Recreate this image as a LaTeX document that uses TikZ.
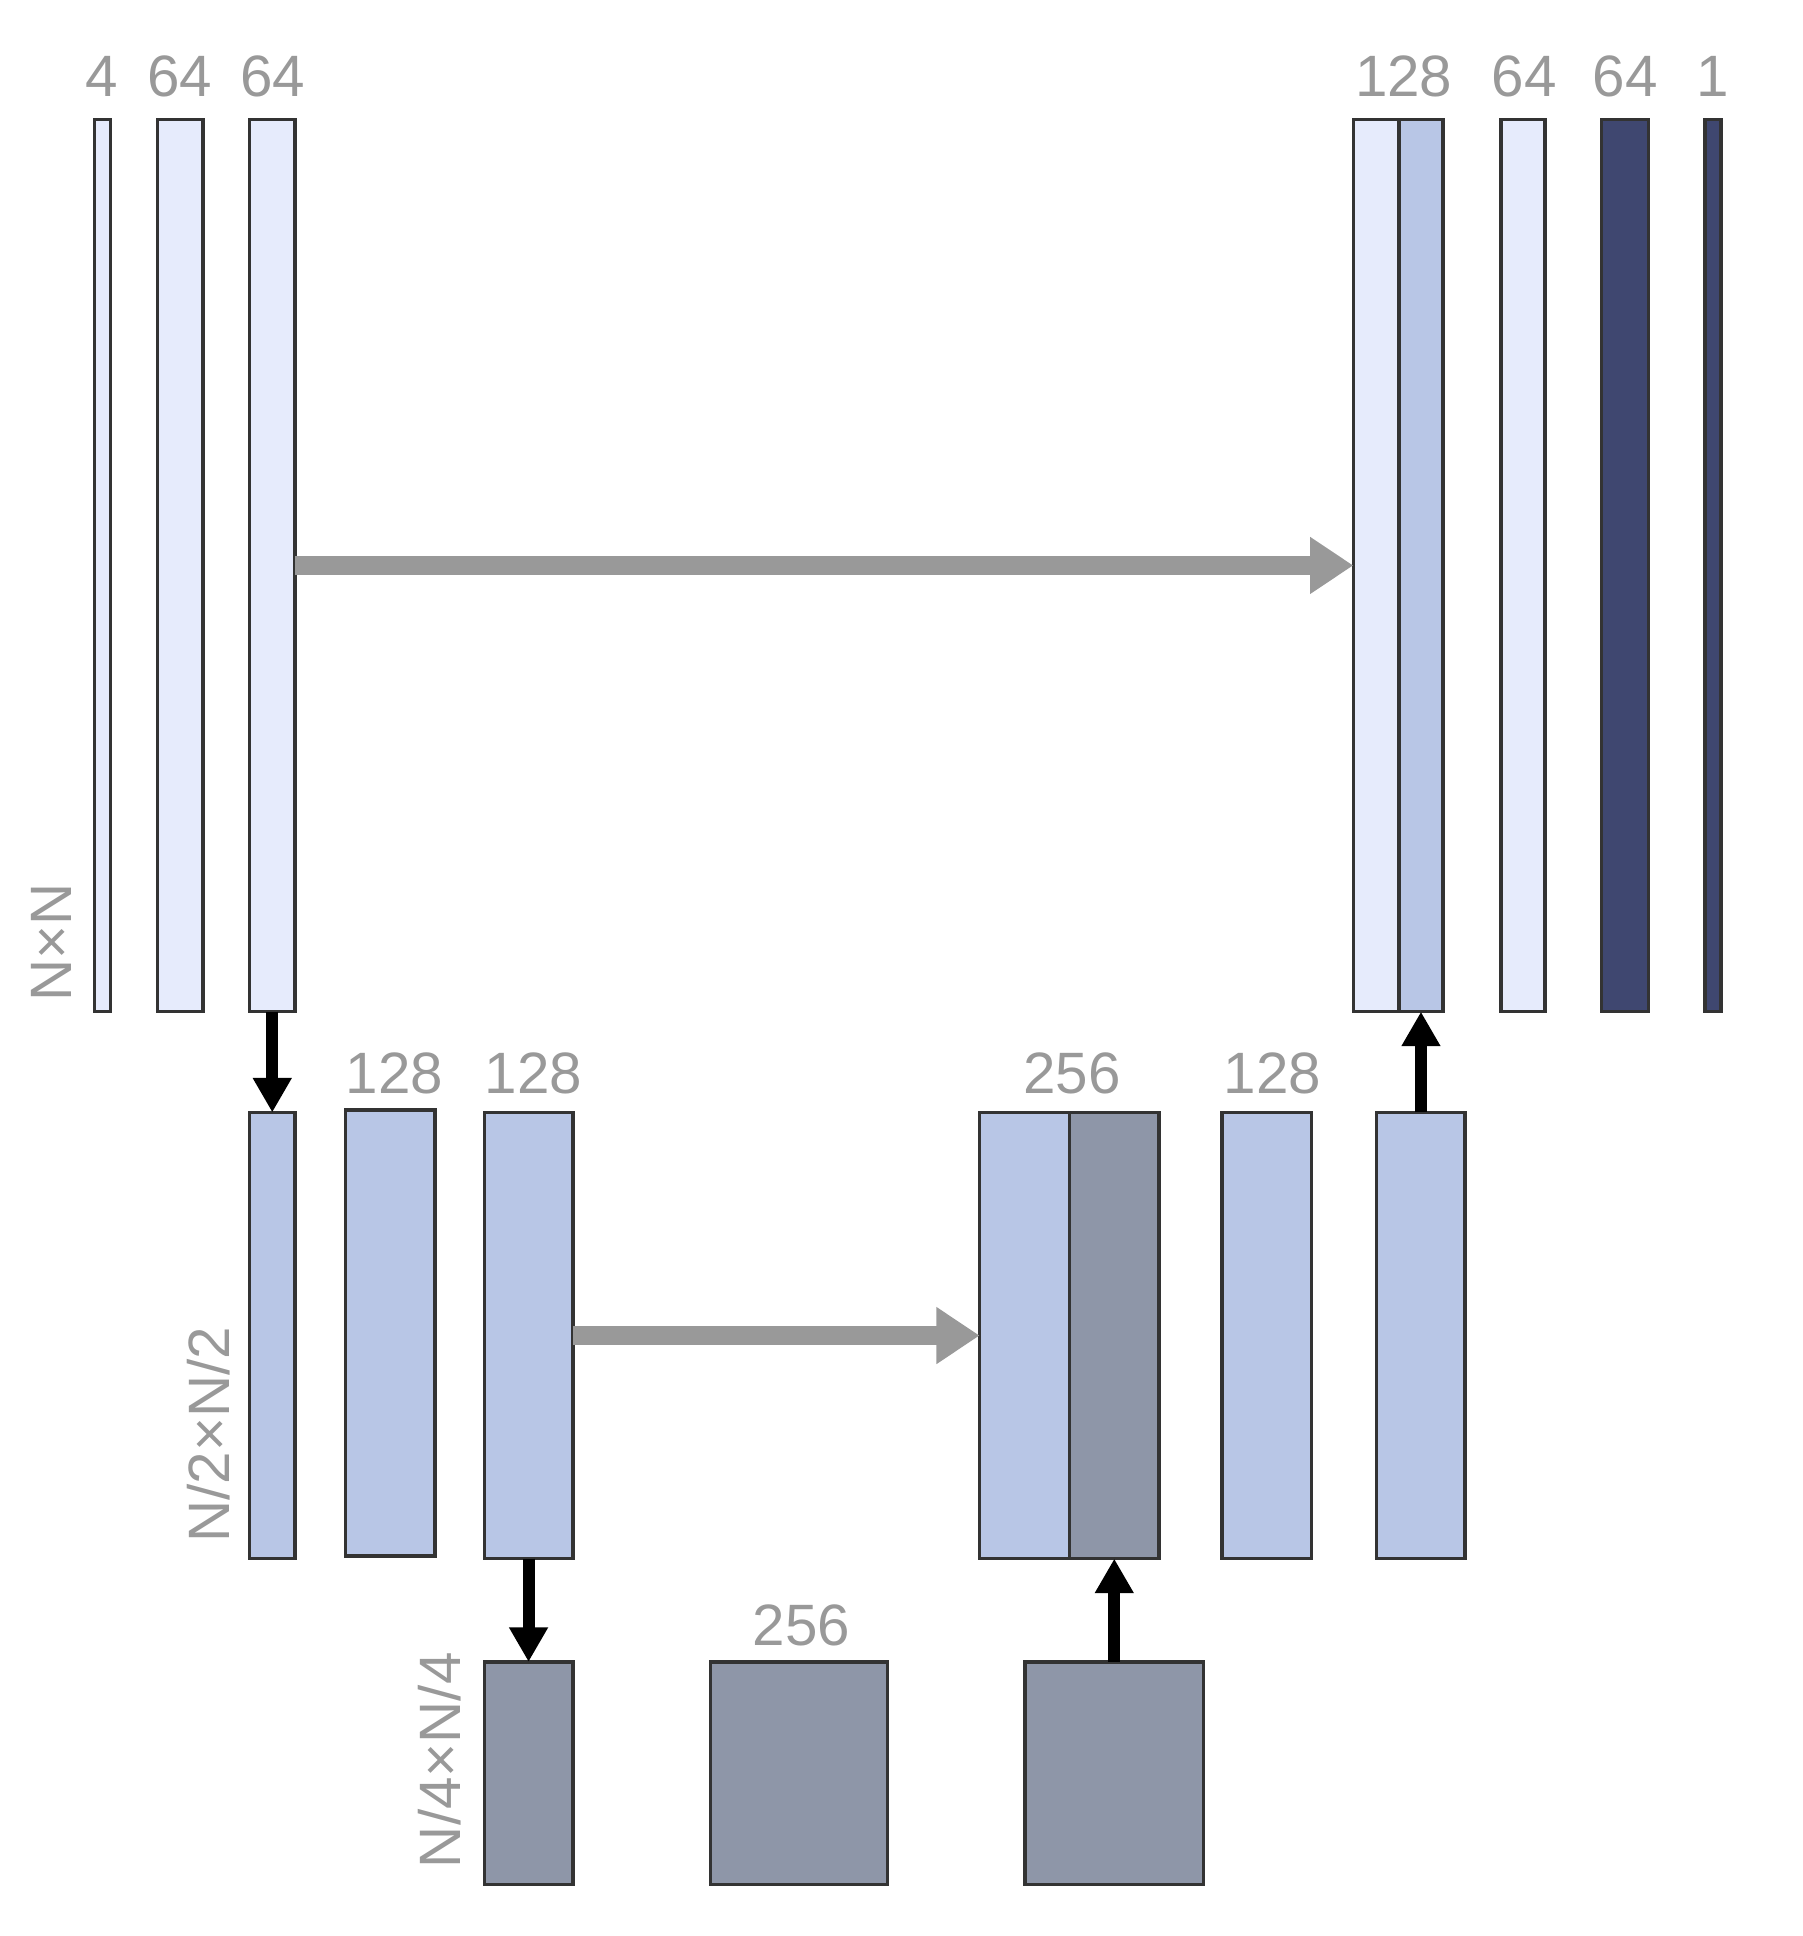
\documentclass[tikz,border=0pt]{standalone}
\usepackage{fontspec}
\setmainfont{Liberation Sans}
\usetikzlibrary{arrows.meta}
\definecolor{lt}{HTML}{E6EBFC}
\definecolor{md}{HTML}{B8C6E6}
\definecolor{gy}{HTML}{8E96A8}
\definecolor{dk}{HTML}{3F4770}
\definecolor{tx}{HTML}{999999}
\newcommand{\lay}[6]{%
  \pgfmathsetmacro{\cxx}{(#2+#3)/2}\pgfmathsetmacro{\cyy}{(#4+#5)/2}%
  \pgfmathsetmacro{\ww}{(#3-#2)*0.01}\pgfmathsetmacro{\hh}{(#5-#4)*0.01}%
  \node[lay,fill=#6,minimum width=\ww cm,minimum height=\hh cm] (#1) at (\cxx,\cyy) {};}
\begin{document}
\begin{tikzpicture}[x=0.01cm,y=-0.01cm,
  lay/.style={draw=black!80,line width=0.8pt,inner sep=0pt,outer sep=0pt},
  lbl/.style={text=tx,font=\fontsize{13.5}{16}\selectfont,inner sep=0pt},
  skip/.style={draw=tx,line width=4.5pt,-{Triangle[length=10pt,width=12.5pt]}},
  samp/.style={draw=black,line width=2.8pt,-{Triangle[length=8pt,width=8.5pt]}}]
\useasboundingbox (0,0) rectangle (1466,1575);
% top
\lay{a1}{77}{90}{97}{823}{lt}
\lay{a2}{128}{165}{97}{823}{lt}
\lay{a3}{203}{240}{97}{823}{lt}
\lay{r1}{1101}{1138}{97}{823}{lt}
\lay{r2}{1138}{1174}{97}{823}{md}
\lay{r3}{1221}{1257}{97}{823}{lt}
\lay{r4}{1303}{1341}{97}{823}{dk}
\lay{r5}{1387}{1400}{97}{823}{dk}
% middle
\lay{m1}{203}{240}{905}{1268}{md}
\lay{m2}{281}{354}{903}{1266}{md}
\lay{m3}{394}{466}{905}{1268}{md}
\lay{m4}{797}{870}{905}{1268}{md}
\lay{m5}{870}{943}{905}{1268}{gy}
\lay{m6}{994}{1067}{905}{1268}{md}
\lay{m7}{1120}{1192}{905}{1268}{md}
% bottom
\lay{c1}{394}{466}{1352}{1533}{gy}
\lay{c2}{578}{722}{1352}{1533}{gy}
\lay{c3}{834}{979}{1352}{1533}{gy}
% labels
\node[lbl] (t1) at (83,62) {4};
\node[lbl] (t2) at (146,62) {64};
\node[lbl] (t3) at (222,62) {64};
\node[lbl] (t4) at (1142,62) {128};
\node[lbl] (t5) at (1240,62) {64};
\node[lbl] (t6) at (1322,62) {64};
\node[lbl] (t7) at (1393,62) {1};
\node[lbl] (u1) at (321,873) {128};
\node[lbl] (u2) at (434,873) {128};
\node[lbl] (u3) at (872,873) {256};
\node[lbl] (u4) at (1035,873) {128};
\node[lbl] (v1) at (652,1322) {256};
\node[lbl,rotate=90] (s1) at (42,767) {N×N};
\node[lbl,rotate=90] (s2) at (170,1167) {N/2×N/2};
\node[lbl,rotate=90] (s3) at (358,1432) {N/4×N/4};
% arrows
\draw[skip] (a3.east) -- (r1.west);
\draw[skip] (m3.east) -- (m4.west);
\draw[samp] (a3.south) -- (m1.north);
\draw[samp] (m3.south) -- (c1.north);
\draw[samp] (c3.north) -- (m5.south);
\draw[samp] (m7.north) -- (r2.south);
\end{tikzpicture}
\end{document}
